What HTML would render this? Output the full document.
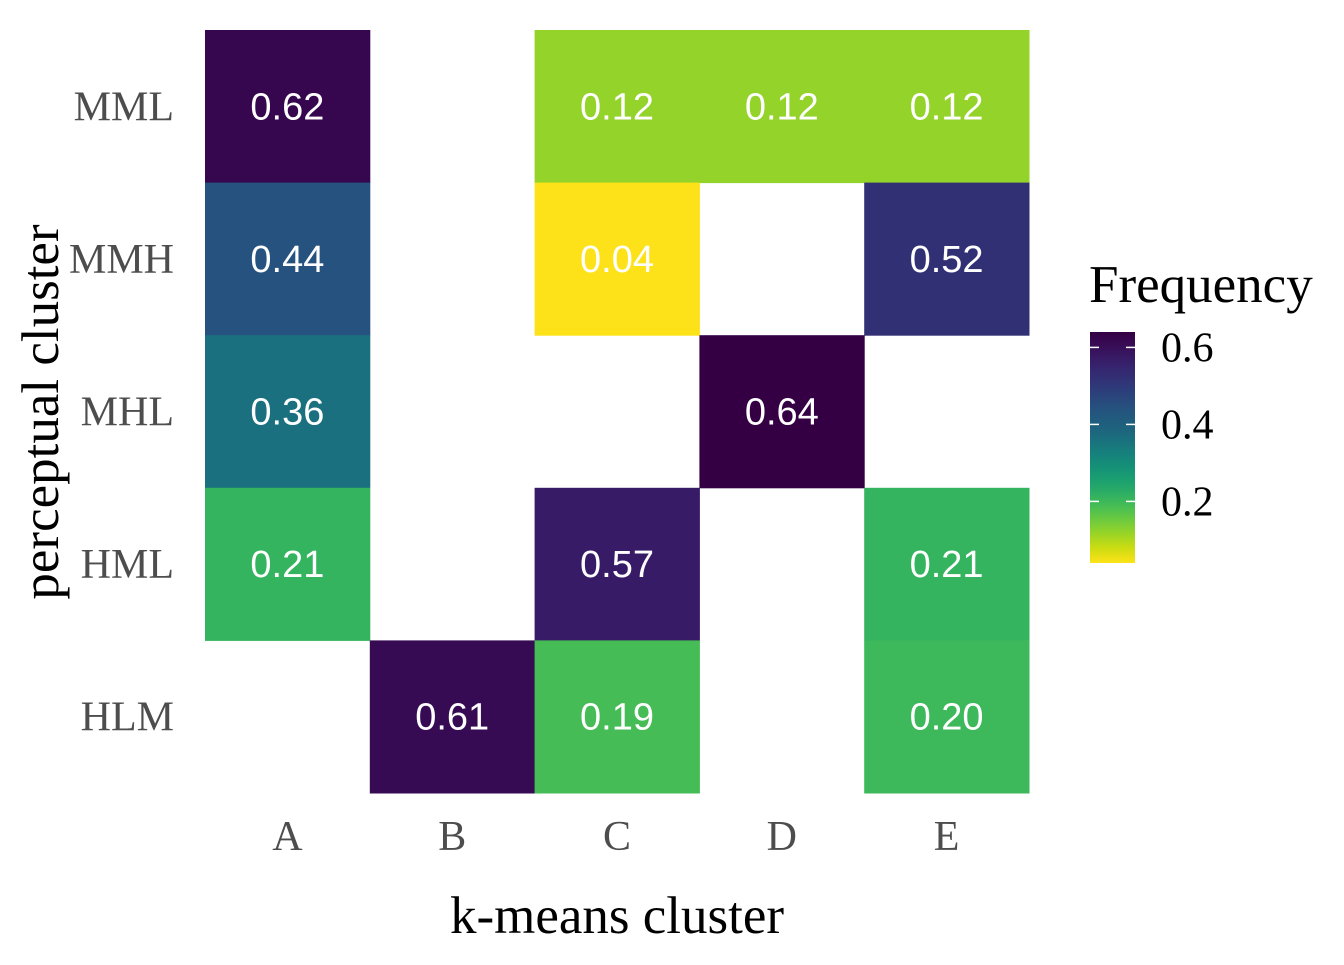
<!DOCTYPE html>
<html><head><meta charset="utf-8"><style>
body{margin:0;background:#fff;width:1344px;height:960px;overflow:hidden}
svg text{font-family:"Liberation Serif",serif}
</style></head><body>
<svg id="chart" width="1344" height="960" xmlns="http://www.w3.org/2000/svg">
<defs><linearGradient id="grad" x1="0" y1="1" x2="0" y2="0"></linearGradient></defs>
<g id="cells"></g>
<g id="axes"></g>
<text x="617" y="933" text-anchor="middle" font-size="53" fill="#000">k-means cluster</text>
<text transform="translate(58,412) rotate(-90)" text-anchor="middle" font-size="53" fill="#000">perceptual cluster</text>
<text x="1089" y="302" font-size="53" fill="#000">Frequency</text>
<rect x="1090" y="332" width="45" height="231" fill="url(#grad)"/>
<g id="legend"></g>
</svg>
<script>
const xCats=["A","B","C","D","E"];
const yCats=["MML","MMH","MHL","HML","HLM"];
const cellX=["A","C","D","E","A","C","E","A","D","A","C","E","B","C","E"];
const cellY=["MML","MML","MML","MML","MMH","MMH","MMH","MHL","MHL","HML","HML","HML","HLM","HLM","HLM"];
const cellV=[0.62,0.12,0.12,0.12,0.44,0.04,0.52,0.36,0.64,0.21,0.57,0.21,0.61,0.19,0.20];
const legendTicks=[0.2,0.4,0.6];
const vMin=0.04,vMax=0.64;
const viridis=["#440154","#481668","#482878","#443983","#3e4989","#375a8c","#31688e","#2c728e","#26828e","#21918c","#1fa088","#28ae80","#3fbc73","#5ec962","#84d44b","#addc30","#d8e219","#fde725"];
const NS="http://www.w3.org/2000/svg";
const x0=205,cw=164.8,y0=30,ch=152.6;
function xs(c){return x0+xCats.indexOf(c)*cw;}
function ys(c){return y0+yCats.indexOf(c)*ch;}
function hex(h){return [1,3,5].map(i=>parseInt(h.substr(i,2),16));}
function color(v){let t=1-(v-vMin)/(vMax-vMin);t=Math.max(0,Math.min(1,t));const p=t*(viridis.length-1),i=Math.min(Math.floor(p),viridis.length-2),f=p-i;const a=hex(viridis[i]),b=hex(viridis[i+1]);return "rgb("+a.map((c,k)=>{const x=(c+(b[k]-c)*f)/255;return Math.round(255*Math.pow(x,1.2));}).join(",")+")";}
const cells=document.getElementById("cells");
cellV.forEach((v,i)=>{
 const r=document.createElementNS(NS,"rect");
 r.setAttribute("x",xs(cellX[i]));r.setAttribute("y",ys(cellY[i]));
 r.setAttribute("width",cw+0.5);r.setAttribute("height",ch+0.5);r.setAttribute("fill",color(v));
 
 
 cells.appendChild(r);
 const t=document.createElementNS(NS,"text");
 t.setAttribute("x",xs(cellX[i])+cw/2);t.setAttribute("y",ys(cellY[i])+ch/2+13);
 t.setAttribute("text-anchor","middle");t.setAttribute("font-size","38");t.setAttribute("fill","#fff");
 t.setAttribute("style","font-family:'Liberation Sans',sans-serif");
 t.textContent=v.toFixed(2);
 
 
 cells.appendChild(t);
});
const axes=document.getElementById("axes");
xCats.forEach(c=>{const t=document.createElementNS(NS,"text");t.setAttribute("x",xs(c)+cw/2);t.setAttribute("y",850);t.setAttribute("text-anchor","middle");t.setAttribute("font-size","42");t.setAttribute("fill","#4d4d4d");t.textContent=c;
 
 
 axes.appendChild(t);});
yCats.forEach(c=>{const t=document.createElementNS(NS,"text");t.setAttribute("x",174);t.setAttribute("y",ys(c)+ch/2+14);t.setAttribute("text-anchor","end");t.setAttribute("font-size","42");t.setAttribute("fill","#4d4d4d");t.textContent=c;
 
 
 axes.appendChild(t);});
const g=document.getElementById("grad");
for(let i=0;i<=30;i++){const v=vMin+(vMax-vMin)*i/30;const s=document.createElementNS(NS,"stop");s.setAttribute("offset",(i/30));s.setAttribute("stop-color",color(v));g.appendChild(s);}
const lg=document.getElementById("legend");
function ly(v){return 563-(v-vMin)/(vMax-vMin)*231;}
legendTicks.forEach(v=>{
 [[1090,1099],[1126,1135]].forEach(([a,b])=>{const l=document.createElementNS(NS,"line");l.setAttribute("x1",a);l.setAttribute("x2",b);l.setAttribute("y1",ly(v));l.setAttribute("y2",ly(v));l.setAttribute("stroke","#fff");l.setAttribute("stroke-width","1.5");
 
 
 lg.appendChild(l);});
 const t=document.createElementNS(NS,"text");t.setAttribute("x",1161);t.setAttribute("y",ly(v)+14);t.setAttribute("font-size","42");t.setAttribute("fill","#000");t.textContent=v.toFixed(1);
 
 
 lg.appendChild(t);
});
</script>
</body></html>
